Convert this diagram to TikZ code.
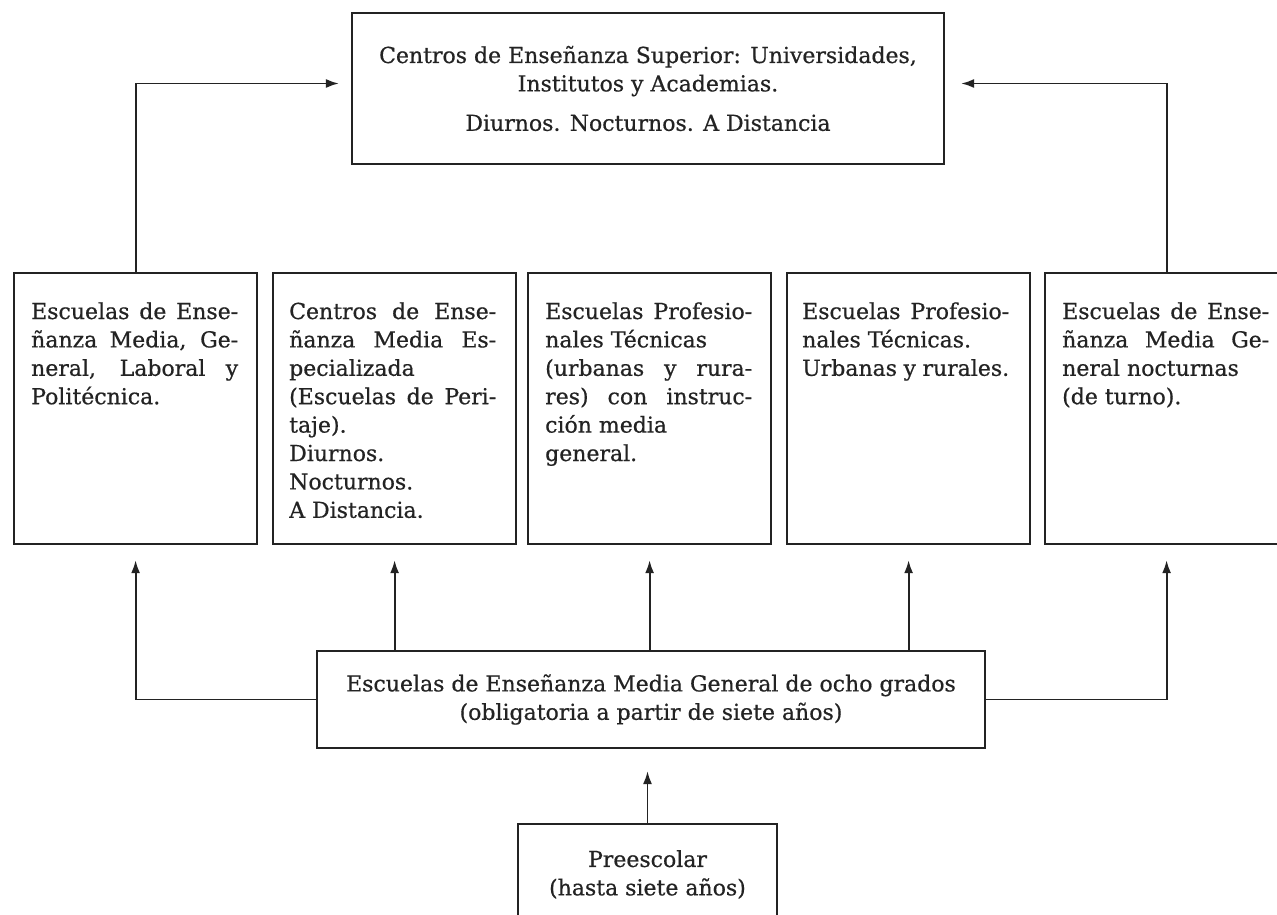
\documentclass[tikz,border=0pt]{standalone}
\usepackage{fontspec}
\setmainfont{DejaVu Serif}[BoldFont={DejaVu Serif}, BoldFeatures={FakeBold=0.6}]
\usetikzlibrary{arrows.meta,calc}
\definecolor{ink}{RGB}{35,35,35}
\newcommand{\boxprep}{\tolerance=10000\relax\hyphenpenalty=10000\relax}
\begin{document}
\begin{tikzpicture}[x=1pt,y=-1pt,
  box/.style={draw=ink, line width=2.2pt, rectangle, inner sep=0pt},
  txt/.style={text=ink, inner sep=0pt, text width=207pt, align=justify,
    font=\fontsize{22}{28.4}\selectfont\bfseries},
  ctxt/.style={text=ink, align=center, font=\fontsize{22}{28.4}\selectfont\bfseries},
  arr/.style={draw=ink, line width=1.9pt, -{Latex[length=13pt,width=9pt]}}]
\useasboundingbox (0,0) rectangle (1277,915);
\fill[white] (0,0) rectangle (1277,915);
\clip (0,0) rectangle (1277,915);

% top box
\node[box, ctxt, minimum width=592pt, minimum height=151pt] (top) at (648,88.5)
  {Centros de Enseñanza Superior: Universidades,\\ Institutos y Academias.\\[11pt] Diurnos. Nocturnos. A Distancia};

% row of five boxes
\node[box, minimum width=243pt, minimum height=271pt, anchor=north west] (b1) at (13,272) {};
\node[box, minimum width=243pt, minimum height=271pt, anchor=north west] (b2) at (272,272) {};
\node[box, minimum width=243pt, minimum height=271pt, anchor=north west] (b3) at (527,272) {};
\node[box, minimum width=243pt, minimum height=271pt, anchor=north west] (b4) at (786,272) {};
\node[box, minimum width=243pt, minimum height=271pt, anchor=north west] (b5) at (1044,272) {};

\node[txt, anchor=base west] (t1) at ([xshift=18pt,yshift=-47pt]b1.north west)
  {\boxprep Escuelas de Ense-\linebreak ñanza Media, Ge-\linebreak neral, Laboral y\linebreak Politécnica.};
\node[txt, anchor=base west] (t2) at ([xshift=17pt,yshift=-47pt]b2.north west)
  {\boxprep Centros de Ense-\linebreak ñanza Media Es-\linebreak pecializada\newline (Escuelas de Peri-\linebreak taje).\newline Diurnos.\newline Nocturnos.\newline A Distancia.};
\node[txt, anchor=base west] (t3) at ([xshift=18pt,yshift=-47pt]b3.north west)
  {\boxprep Escuelas Profesio-\linebreak nales Técnicas\newline (urbanas y rura-\linebreak res) con instruc-\linebreak ción media\newline general.};
\node[txt, anchor=base west] (t4) at ([xshift=16pt,yshift=-47pt]b4.north west)
  {\boxprep Escuelas Profesio-\linebreak nales Técnicas.\newline Urbanas y rurales.};
\node[txt, anchor=base west] (t5) at ([xshift=18pt,yshift=-47pt]b5.north west)
  {\boxprep Escuelas de Ense-\linebreak ñanza Media Ge-\linebreak neral nocturnas\newline (de turno).};

% middle box
\node[box, ctxt, minimum width=668pt, minimum height=97pt] (mid) at (651,699.5)
  {Escuelas de Enseñanza Media General de ocho grados\\(obligatoria a partir de siete años)};

% preescolar
\node[box, ctxt, minimum width=259pt, minimum height=101pt] (pre) at (647.5,874.5)
  {Preescolar\\(hasta siete años)};

% connectors
\draw[arr, shorten >=12pt] (b1.north) |- ([yshift=5pt]top.west);
\draw[arr, shorten >=16pt] (b5.north) |- ([yshift=5pt]top.east);
\draw[arr, shorten >=15pt] (mid.west) -| (b1.south);
\draw[arr, shorten >=15pt] (mid.east) -| (b5.south);
\draw[arr, shorten >=15pt] (mid.north -| b2.south) -- (b2.south);
\draw[arr, shorten >=15pt] (mid.north -| b3.south) -- (b3.south);
\draw[arr, shorten >=15pt] (mid.north -| b4.south) -- (b4.south);
\draw[arr, shorten >=22pt] (pre.north) -- (pre.north |- mid.south);
\end{tikzpicture}
\end{document}
